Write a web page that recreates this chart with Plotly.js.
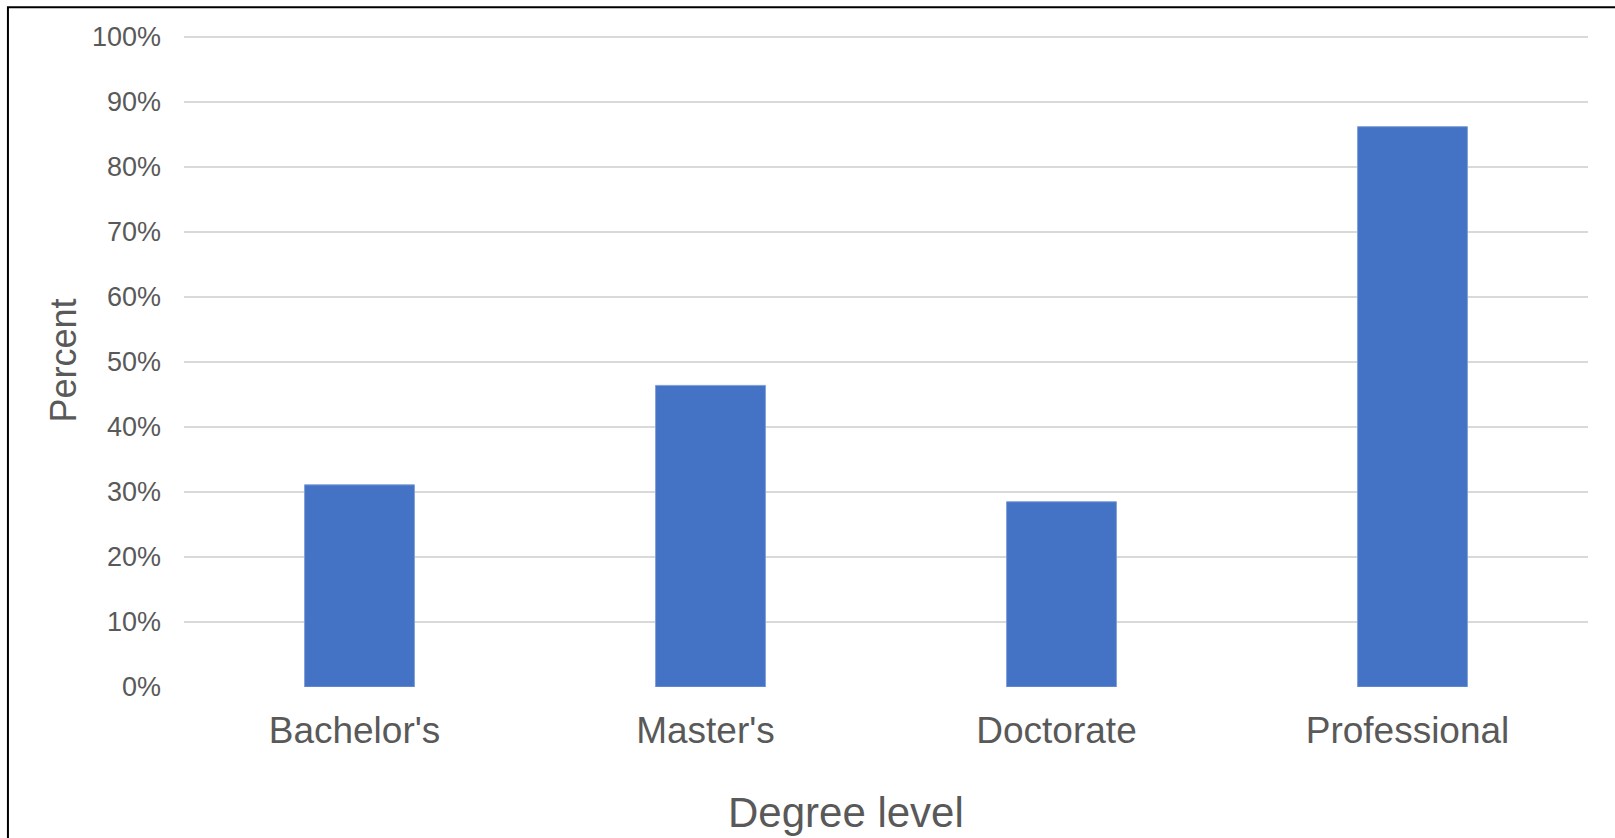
<!DOCTYPE html>
<html>
<head>
<meta charset="utf-8">
<script src="https://cdn.plot.ly/plotly-3.0.1.min.js"></script>
<style>
  html, body { margin: 0; padding: 0; background: #ffffff; }
  #chart { width: 1615px; height: 838px; }
</style>
</head>
<body>
<div id="chart"></div>
<script>
// Share of graduates by degree level (percent)
const degreeLevels = ["Bachelor's", "Master's", "Doctorate", "Professional"];
const percentValues = [31.1, 46.4, 28.5, 86.2];
const yTickValues = [0, 10, 20, 30, 40, 50, 60, 70, 80, 90, 100];

const textGrey = '#595959';
const fontFamily = '"Liberation Sans", Arial, Helvetica, sans-serif';

const trace = {
  type: 'bar',
  x: degreeLevels,
  y: percentValues,
  marker: {
    color: '#4472C4',
    line: { color: '#7f9fd8', width: 1 }
  },
  hoverinfo: 'x+y'
};

const layout = {
  width: 1615,
  height: 838,
  margin: { l: 184, r: 27, t: 35, b: 151, pad: 0 },
  paper_bgcolor: '#ffffff',
  plot_bgcolor: '#ffffff',
  font: { family: fontFamily, color: textGrey },
  showlegend: false,
  bargap: 0.687,
  xaxis: {
    type: 'category',
    showgrid: false,
    zeroline: false,
    showline: false,
    ticks: '',
    tickfont: { size: 37, color: textGrey, family: fontFamily },
    ticklabelstandoff: 18,
    ticklabelshift: -5
  },
  yaxis: {
    range: [0, 100.3],
    tickvals: yTickValues,
    ticktext: yTickValues.map(v => v + '%'),
    showgrid: true,
    gridcolor: '#d9d9d9',
    gridwidth: 1.5,
    zeroline: false,
    showline: false,
    ticks: '',
    tickfont: { size: 27, color: textGrey, family: fontFamily },
    ticklabelstandoff: 22
  },
  annotations: [
    {
      text: 'Degree level',
      xref: 'paper', yref: 'paper',
      x: 0.4714, y: -0.192,
      xanchor: 'center', yanchor: 'middle',
      showarrow: false,
      font: { size: 42, color: textGrey, family: fontFamily }
    },
    {
      text: 'Percent',
      xref: 'paper', yref: 'paper',
      x: -0.0865, y: 0.5,
      xanchor: 'center', yanchor: 'middle',
      textangle: -90,
      showarrow: false,
      font: { size: 36, color: textGrey, family: fontFamily }
    }
  ],
  shapes: [
    // chart frame (left and top edges fall inside the page)
    {
      type: 'rect',
      xref: 'paper', yref: 'paper',
      x0: -0.1254, x1: 1.1,
      y0: -0.3, y1: 1.0425,
      line: { color: '#000000', width: 2 },
      fillcolor: 'rgba(0,0,0,0)',
      layer: 'above'
    }
  ]
};

Plotly.newPlot('chart', [trace], layout, { displayModeBar: false, staticPlot: true });
</script>
</body>
</html>
